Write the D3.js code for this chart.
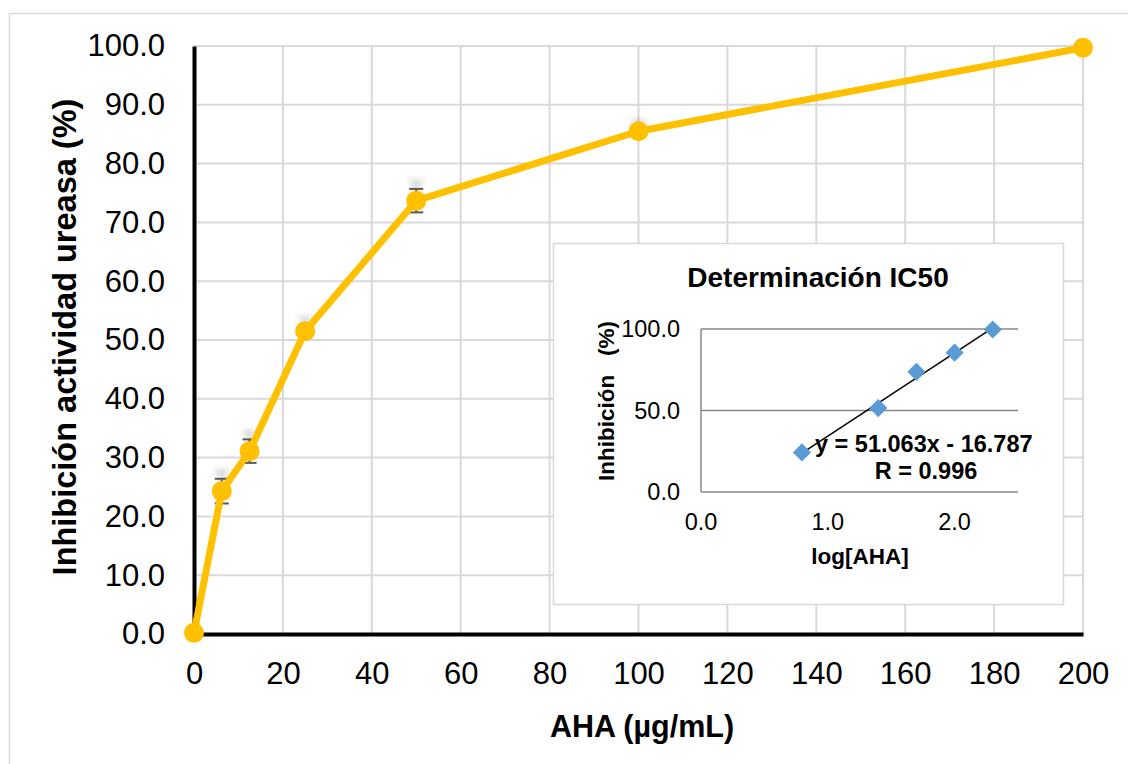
<!DOCTYPE html>
<html>
<head>
<meta charset="utf-8">
<script src="https://cdn.jsdelivr.net/npm/d3@7"></script>
<style>
  body { margin: 0; background: #fff; }
  svg { font-family: "Liberation Sans", Arial, sans-serif; }
</style>
</head>
<body>
<svg id="visualization" width="1128" height="764"></svg>
<script>
// main curve
const conc = [0, 6.25, 12.5, 25, 50, 100, 200];
const inhib = [0.2, 24.3, 31.1, 51.5, 73.7, 85.5, 99.7];
const errs = [0, 2.1, 2.0, 1.0, 2.0, 0.5, 0];
const xTicks = [0, 20, 40, 60, 80, 100, 120, 140, 160, 180, 200];
const yTicks = [0, 10, 20, 30, 40, 50, 60, 70, 80, 90, 100];

// inset (IC50)
const logConc = [0.796, 1.398, 1.699, 2.0, 2.301];
const logInhib = [24.3, 51.5, 73.7, 85.5, 99.7];
const fitSlope = 51.063;
const fitIntercept = -16.787;
const insetXTicks = [0, 1, 2];
const insetYTicks = [0, 50, 100];

const svg = d3.select("#visualization");

// outer chart border
svg.append("rect")
    .attr("x", 9.5).attr("y", 13.5)
    .attr("width", 1200).attr("height", 800)
    .attr("fill", "#fff")
    .attr("stroke", "#d9d9d9").attr("stroke-width", 1.5);

const defs = svg.append("defs");
const shadow = defs.append("filter").attr("id", "errShadow")
    .attr("x", "-100%").attr("y", "-100%").attr("width", "300%").attr("height", "300%");
shadow.append("feGaussianBlur").attr("in", "SourceAlpha").attr("stdDeviation", 3).attr("result", "b");
shadow.append("feOffset").attr("in", "b").attr("dy", -7).attr("result", "o");
shadow.append("feComponentTransfer").attr("in", "o").attr("result", "s")
    .append("feFuncA").attr("type", "linear").attr("slope", 0.35);
const merge = shadow.append("feMerge");
merge.append("feMergeNode").attr("in", "s");
merge.append("feMergeNode").attr("in", "SourceGraphic");

const x = d3.scaleLinear().domain([0, 200]).range([194, 1083]);
const y = d3.scaleLinear().domain([0, 100]).range([634, 46]);

// gridlines
svg.append("g").selectAll("line.h")
    .data(yTicks.filter(d => d > 0))
    .join("line")
    .attr("x1", x(0)).attr("x2", x(200))
    .attr("y1", d => y(d)).attr("y2", d => y(d))
    .attr("stroke", "#d9d9d9").attr("stroke-width", 2);
svg.append("g").selectAll("line.v")
    .data(xTicks.filter(d => d > 0))
    .join("line")
    .attr("x1", d => x(d)).attr("x2", d => x(d))
    .attr("y1", y(0)).attr("y2", y(100))
    .attr("stroke", "#d9d9d9").attr("stroke-width", 2);

// axes
const xAxis = svg.append("g")
    .attr("transform", `translate(0,${y(0)})`)
    .call(d3.axisBottom(x).tickValues(xTicks).tickSize(0).tickPadding(28));
xAxis.select(".domain").attr("stroke", "#000").attr("stroke-width", 4);
xAxis.selectAll("text").attr("font-size", 31).attr("fill", "#000").attr("font-family", "Liberation Sans, Arial");

const yAxis = svg.append("g")
    .attr("transform", `translate(${x(0)},0)`)
    .call(d3.axisLeft(y).tickValues(yTicks).tickFormat(d3.format(".1f")).tickSize(0).tickPadding(29));
yAxis.select(".domain").attr("stroke", "#000").attr("stroke-width", 4);
yAxis.selectAll("text").attr("font-size", 31).attr("fill", "#000").attr("font-family", "Liberation Sans, Arial");

// axis titles
svg.append("text")
    .attr("x", 642).attr("y", 737)
    .attr("text-anchor", "middle")
    .attr("font-size", 30.5).attr("font-weight", "bold")
    .text("AHA (µg/mL)");
svg.append("text")
    .attr("transform", "translate(76,337) rotate(-90)")
    .attr("text-anchor", "middle")
    .attr("font-size", 32.5).attr("font-weight", "bold")
    .text("Inhibición actividad ureasa (%)");

const pts = conc.map((c, i) => ({ c: c, v: inhib[i], e: errs[i] }));

// error bars
const eb = svg.append("g").attr("stroke", "#595959").attr("stroke-width", 2)
    .attr("filter", "url(#errShadow)");
pts.filter(d => d.e > 0).forEach(d => {
    eb.append("line").attr("x1", x(d.c)).attr("x2", x(d.c))
        .attr("y1", y(d.v + d.e)).attr("y2", y(d.v - d.e));
    [d.v + d.e, d.v - d.e].forEach(v => {
        eb.append("line").attr("x1", x(d.c) - 7).attr("x2", x(d.c) + 7)
            .attr("y1", y(v)).attr("y2", y(v));
    });
});

// curve
svg.append("path")
    .datum(pts)
    .attr("fill", "none")
    .attr("stroke", "#ffc000")
    .attr("stroke-width", 7)
    .attr("stroke-linejoin", "round")
    .attr("d", d3.line().x(d => x(d.c)).y(d => y(d.v)));

svg.append("g").selectAll("circle")
    .data(pts)
    .join("circle")
    .attr("cx", d => x(d.c)).attr("cy", d => y(d.v))
    .attr("r", 10)
    .attr("fill", "#ffc000");

// ---- inset ----
const inset = svg.append("g");
inset.append("rect")
    .attr("x", 553.5).attr("y", 243.5)
    .attr("width", 510).attr("height", 361)
    .attr("fill", "#fff")
    .attr("stroke", "#d9d9d9").attr("stroke-width", 1.5);

const ix = d3.scaleLinear().domain([0, 2.5]).range([701, 1018]);
const iy = d3.scaleLinear().domain([0, 100]).range([492, 329]);

inset.selectAll("line.grid")
    .data(insetYTicks)
    .join("line")
    .attr("x1", ix(0)).attr("x2", ix(2.5))
    .attr("y1", d => iy(d)).attr("y2", d => iy(d))
    .attr("stroke", "#898989").attr("stroke-width", 1.5);
inset.append("line")
    .attr("x1", ix(0)).attr("x2", ix(0))
    .attr("y1", iy(0)).attr("y2", iy(100))
    .attr("stroke", "#898989").attr("stroke-width", 1.5);

inset.selectAll("text.yt")
    .data(insetYTicks)
    .join("text")
    .attr("x", 680).attr("y", d => iy(d))
    .attr("dy", "0.35em")
    .attr("text-anchor", "end")
    .attr("font-size", 23.5)
    .text(d => d3.format(".1f")(d));
inset.selectAll("text.xt")
    .data(insetXTicks)
    .join("text")
    .attr("x", d => ix(d)).attr("y", 530)
    .attr("text-anchor", "middle")
    .attr("font-size", 23.5)
    .text(d => d3.format(".1f")(d));

inset.append("text")
    .attr("x", 818).attr("y", 287)
    .attr("text-anchor", "middle")
    .attr("font-size", 28).attr("font-weight", "bold")
    .text("Determinación IC50");
inset.append("text")
    .attr("x", 860).attr("y", 564)
    .attr("text-anchor", "middle")
    .attr("font-size", 22.5).attr("font-weight", "bold")
    .text("log[AHA]");
inset.append("text")
    .attr("transform", "translate(614,401) rotate(-90)")
    .attr("text-anchor", "middle")
    .attr("font-size", 22.5).attr("font-weight", "bold")
    .style("white-space", "pre")
    .text("Inhibición   (%)");

// trendline
const fitX = d3.extent(logConc);
inset.append("line")
    .attr("x1", ix(fitX[0])).attr("y1", iy(fitSlope * fitX[0] + fitIntercept))
    .attr("x2", ix(fitX[1])).attr("y2", iy(fitSlope * fitX[1] + fitIntercept))
    .attr("stroke", "#000").attr("stroke-width", 1.5);

inset.selectAll("path.pt")
    .data(logConc.map((c, i) => [c, logInhib[i]]))
    .join("path")
    .attr("transform", d => `translate(${ix(d[0])},${iy(d[1])})`)
    .attr("d", d3.symbol(d3.symbolDiamond2, 210))
    .attr("fill", "#5b9bd5");

inset.append("text")
    .attr("x", 815).attr("y", 452)
    .attr("font-size", 23.5).attr("font-weight", "bold")
    .text(`y = ${fitSlope}x - ${-fitIntercept}`);
inset.append("text")
    .attr("x", 926).attr("y", 479)
    .attr("text-anchor", "middle")
    .attr("font-size", 23.5).attr("font-weight", "bold")
    .text("R = 0.996");
</script>
</body>
</html>
